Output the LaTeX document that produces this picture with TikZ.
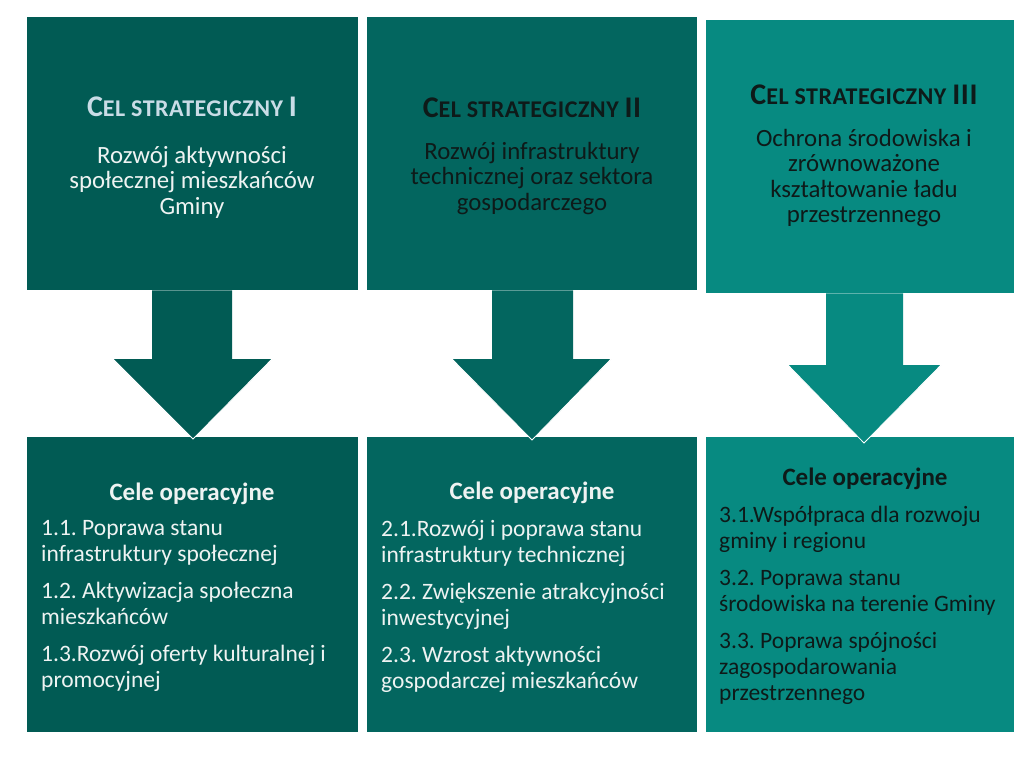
\documentclass[tikz,border=0pt]{standalone}
\usepackage{fontspec}
\setmainfont{Carlito}
\definecolor{c1}{HTML}{015B54}
\definecolor{c2}{HTML}{03665F}
\definecolor{c3}{HTML}{078A81}
\definecolor{ttl}{HTML}{C9DCE6}
\definecolor{wt}{HTML}{EEF3F2}
\definecolor{dk}{HTML}{0E1A19}
\newcommand\celtitle[1]{\bfseries\addfontfeature{LetterSpace=2}\fontsize{30}{32}\selectfont C\fontsize{24}{32}\selectfont EL STRATEGICZNY \fontsize{30}{32}\selectfont #1}
\begin{document}
\frenchspacing
\begin{tikzpicture}[x=1pt,y=-1pt,
  panel/.style={fill=#1, inner sep=0pt, anchor=north west},
  titletext/.style={anchor=base, inner sep=0pt, text=#1},
  bodytext/.style={anchor=base, inner sep=0pt, text width=320pt, align=flush center, text=#1, font=\fontsize{24.8}{25.5}\selectfont},
  celhead/.style={anchor=base, inner sep=0pt, text=#1, font=\bfseries\fontsize{25}{26}\selectfont},
  items/.style={anchor=base west, inner sep=0pt, text width=300pt, align=flush left, text=#1, font=\fontsize{23.5}{26.3}\selectfont},
  tipedge/.style={draw=white, line width=0.8pt}]
\useasboundingbox (0,0) rectangle (1014,769);
\fill[white] (0,0) rectangle (1014,769);
% panels
\node[panel=c1, minimum width=331pt, minimum height=273pt] (s1) at (27,17) {};
\node[panel=c2, minimum width=330pt, minimum height=273pt] (s2) at (367,17) {};
\node[panel=c3, minimum width=308pt, minimum height=273pt] (s3) at (706,20) {};
\node[panel=c1, minimum width=331pt, minimum height=295pt] (o1) at (27,437) {};
\node[panel=c2, minimum width=330pt, minimum height=295pt] (o2) at (367,437) {};
\node[panel=c3, minimum width=308pt, minimum height=295pt] (o3) at (706,437) {};
% arrows
\fill[c1] (s1.south -| 152,0) -- (s1.south -| 232,0) -- (232,359) -- (272,359) -- (193,439) -- (113,359) -- (152,359) -- cycle;
\draw[tipedge] (113,359) -- (193,439) -- (272,359);
\fill[c2] (s2.south -| 492,0) -- (s2.south -| 573,0) -- (573,359) -- (611,359) -- (532,440) -- (452,359) -- (492,359) -- cycle;
\draw[tipedge] (452,359) -- (532,440) -- (611,359);
\fill[c3] (s3.south -| 826,0) -- (s3.south -| 903,0) -- (903,365) -- (941,365) -- (864,443) -- (788,365) -- (826,365) -- cycle;
\draw[tipedge] (788,365) -- (864,443) -- (941,365);
% top texts
\node[titletext=ttl] (h1) at (192,116) {\celtitle{I}};
\node[bodytext=wt] (d1) at (192,163) {Rozwój aktywności\\społecznej mieszkańców\\Gminy};
\node[titletext=dk] (h2) at (532,117) {\celtitle{II}};
\node[bodytext=dk] (d2) at (532,159) {Rozwój infrastruktury\\technicznej oraz sektora\\gospodarczego};
\node[titletext=dk] (h3) at (864,104) {\celtitle{III}};
\node[bodytext=dk] (d3) at (864,146) {Ochrona środowiska i\\zrównoważone\\kształtowanie ładu\\przestrzennego};
% bottom texts
\node[celhead=wt] (k1) at (192,500) {Cele operacyjne};
\node[items=wt] (i1) at (41,535) {1.1. Poprawa stanu\\infrastruktury społecznej\\[10.5pt]1.2. Aktywizacja społeczna\\mieszkańców\\[10.5pt]1.3.Rozwój oferty kulturalnej i\\promocyjnej};
\node[celhead=wt] (k2) at (532,499) {Cele operacyjne};
\node[items=wt] (i2) at (381,536) {2.1.Rozwój i poprawa stanu\\infrastruktury technicznej\\[10.5pt]2.2. Zwiększenie atrakcyjności\\inwestycyjnej\\[10.5pt]2.3. Wzrost aktywności\\gospodarczej mieszkańców};
\node[celhead=dk] (k3) at (865,485) {Cele operacyjne};
\node[items=dk] (i3) at (719,522) {3.1.Współpraca dla rozwoju\\gminy i regionu\\[10.5pt]3.2. Poprawa stanu\\środowiska na terenie Gminy\\[10.5pt]3.3. Poprawa spójności\\zagospodarowania\\przestrzennego};
\end{tikzpicture}
\end{document}
